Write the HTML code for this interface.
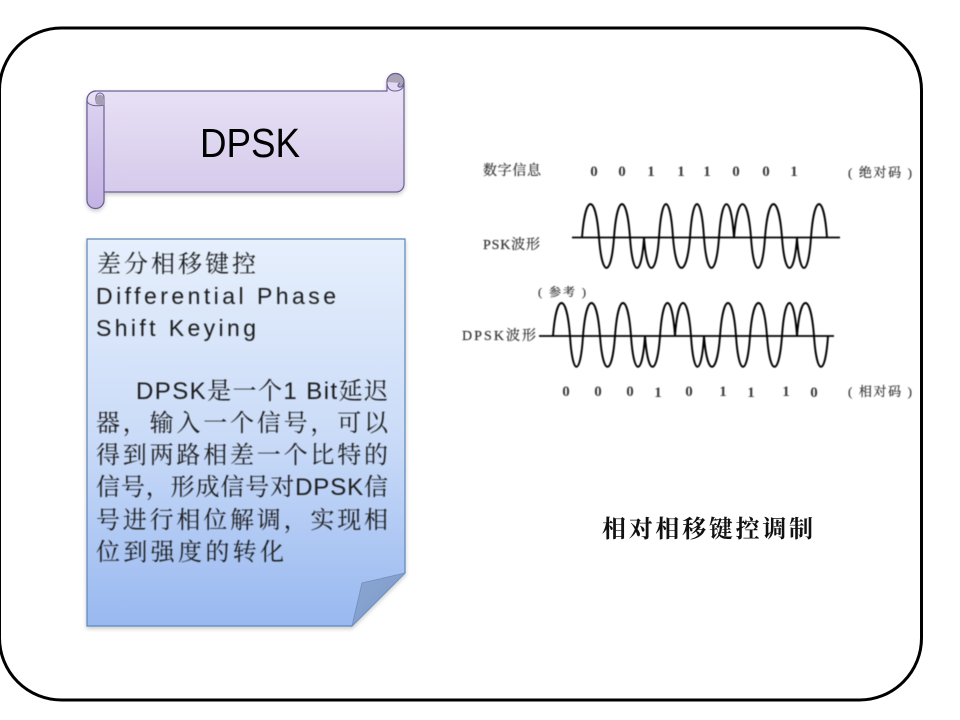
<!DOCTYPE html>
<html><head><meta charset="utf-8"><style>
html,body{margin:0;padding:0;background:#fff;width:960px;height:720px;overflow:hidden}
svg{display:block}
.cn{font-family:"Liberation Sans","Noto Serif CJK SC",sans-serif;font-size:24px;fill:#1a1a1a}
.la{font-family:"Liberation Sans","Noto Sans CJK SC",sans-serif;font-size:23px;fill:#1a1a1a}
.s{font-family:"Liberation Serif","Noto Serif CJK SC",serif;font-size:14px;fill:#333;stroke:#333;stroke-width:.2}
.d{font-family:"Liberation Serif",serif;font-size:15px;font-weight:700;fill:#3a3a3a;text-anchor:middle}
</style></head><body>
<svg width="960" height="720" viewBox="0 0 960 720" xmlns="http://www.w3.org/2000/svg">
<defs>
<linearGradient id="p" x1="0" y1="0" x2="0" y2="1"><stop offset="0" stop-color="#ebe4f6"/><stop offset="1" stop-color="#d2c7ea"/></linearGradient>
<linearGradient id="p2" x1="0" y1="0" x2="0" y2="1"><stop offset="0" stop-color="#dcd2f0"/><stop offset="1" stop-color="#c3b3e4"/></linearGradient>
<linearGradient id="b" x1="0" y1="0" x2="0" y2="1"><stop offset="0" stop-color="#e6effc"/><stop offset=".5" stop-color="#cbdcf8"/><stop offset="1" stop-color="#98b8f0"/></linearGradient>
<linearGradient id="f" x1="0" y1="0" x2="1" y2="1"><stop offset="0" stop-color="#8ba6d2"/><stop offset="1" stop-color="#7d9ac9"/></linearGradient>
<filter id="sh" x="-5%" y="-5%" width="110%" height="115%"><feDropShadow dx="0" dy="2" stdDeviation="2" flood-color="#000" flood-opacity=".22"/></filter>
<filter id="bl" x="-2%" y="-2%" width="104%" height="104%"><feGaussianBlur stdDeviation=".4"/></filter>
</defs>
<rect x="-0.5" y="28" width="922" height="672" rx="62" ry="62" fill="#fff" stroke="#000" stroke-width="3"/>

<!-- scroll banner -->
<g filter="url(#sh)">
<path d="M96 91H387V82a8.500 8.500 0 0 1 17 0V184a8 8 0 0 1-8 8H104V200a8.500 8.500 0 0 1-17 0V100a9 9 0 0 1 9-9Z" fill="url(#p)" stroke="#6d5f95" stroke-width="1.200"/>
</g>
<path d="M104 105V200a8.500 8.500 0 0 1-17 0V100" fill="url(#p2)" stroke="#6d5f95" stroke-width="1.200"/>
<path d="M87 100a9 9 0 0 1 9-9" fill="none" stroke="#6d5f95" stroke-width="1.200"/>
<path d="M87 100c0 5 8 7 17 5V97a4 4 0 0 0-8 0c-1 3 0 6 2 6" fill="#e2daf2" stroke="#6d5f95" stroke-width="1"/>
<path d="M96 104c-1-3-1-8 3-9 3-1 5 2 5 5v5c-3 0-6 0-8-1Z" fill="#a69fb3"/>
<circle cx="395.500" cy="82" r="8.500" fill="#a9a3b6" stroke="#6d5f95" stroke-width="1.200"/>
<path d="M387 82c0 6 3 9 8 9 6 0 9-3 9-9-1 4-3 6-5 5-2-1-1-3 1-4" fill="#e2daf2" stroke="#6d5f95" stroke-width="1"/>
<text x="200" y="157" font-family="Liberation Sans,sans-serif" font-size="41" fill="#000" textLength="100" lengthAdjust="spacingAndGlyphs">DPSK</text>

<!-- note -->
<g filter="url(#sh)">
<path d="M87 239H405V573L352 626H87Z" fill="url(#b)" stroke="#5d86b9" stroke-width="1.200"/>
</g>
<path d="M405 573 362 583 352 626Z" fill="url(#f)" stroke="#6f8fbe" stroke-width=".8"/>

<g filter="url(#bl)">
<text class="cn" x="97" y="272" textLength="159">差分相移键控</text>
<text class="la" x="96" y="304" textLength="240">Differential Phase</text>
<text class="la" x="96" y="336" textLength="160">Shift Keying</text>
<text class="cn" x="136" y="399" textLength="252">DPSK是一个1 Bit延迟</text>
<text class="cn" x="96" y="431" textLength="292">器，输入一个信号，可以</text>
<text class="cn" x="96" y="463" textLength="292">得到两路相差一个比特的</text>
<text class="cn" x="96" y="495" textLength="292">信号，形成信号对DPSK信</text>
<text class="cn" x="96" y="528" textLength="292">号进行相位解调，实现相</text>
<text class="cn" x="96" y="560" textLength="188">位到强度的转化</text>
</g>

<!-- waveforms -->
<g filter="url(#bl)" fill="none" stroke="#000">
<path d="M572 237.500H840M539 336H834" stroke-width="1.800"/>
<path stroke-width="1.900" d="M582 237.500C585.400 193 595.600 193 599 237.500C602 278 611 278 614 237.500C617.200 193 626.800 193 630 237.500C632.800 278 641.200 278 644 238C647 278 656 278 659 237.500C661.800 193 670.200 193 673 237.500C676.400 278 686.600 278 690 237.500C692.800 193 701.200 193 704 237.500C707 278 716 278 719 237.500C722 193 731 193 734 238C737.400 193 747.600 193 751 237.500C753.800 278 762.200 278 765 237.500C768.400 193 778.600 193 782 237.500C785 278 794 278 797 238C799.800 278 808.200 278 811 237.500C814.200 193 823.800 193 827 237.500"/>
<path stroke-width="1.900" d="M553 336C556.400 292 566.600 292 570 336C572.600 377 580.400 377 583 336C586.400 292 596.600 292 600 336C603 377 612 377 615 336C618.200 292 627.800 292 631 336C633.800 377 642.200 377 645 336C648 377 657 377 660 336C663 292 672 292 675 336C678.200 292 687.800 292 691 336C693.600 377 701.400 377 704 336C707.200 377 716.800 377 720 336C723.200 292 732.800 292 736 336C738.800 377 747.200 377 750 336C753.400 292 763.600 292 767 336C770 377 779 377 782 336C785 292 794 292 797 336C800.400 292 810.600 292 814 336C816.800 377 825.200 377 828 336"/>
</g>

<g filter="url(#bl)">
<text class="s" x="483" y="175" textLength="58">数字信息</text>
<text class="s" x="483" y="249" textLength="57">PSK波形</text>
<text class="s" x="462" y="340" textLength="74">DPSK波形</text>
<text class="s" x="538" y="296" textLength="48" style="font-size:12px">( 参考 )</text>
<text class="s" x="848" y="177" textLength="64" style="font-size:13px">( 绝对码 )</text>
<text class="s" x="848" y="396" textLength="64" style="font-size:13px">( 相对码 )</text>
<text class="d" x="594" y="176">0</text><text class="d" x="622" y="176">0</text><text class="d" x="651" y="176">1</text><text class="d" x="681" y="176">1</text><text class="d" x="707" y="176">1</text><text class="d" x="736" y="176">0</text><text class="d" x="766" y="176">0</text><text class="d" x="794" y="176">1</text>
<text class="d" x="566" y="396">0</text><text class="d" x="598" y="396">0</text><text class="d" x="630" y="396">0</text><text class="d" x="658" y="397">1</text><text class="d" x="689" y="396">0</text><text class="d" x="723" y="396">1</text><text class="d" x="751" y="397">1</text><text class="d" x="786" y="396">1</text><text class="d" x="814" y="397">0</text>
</g>

<text x="602" y="537" font-family="Liberation Serif,Noto Serif CJK SC,serif" font-size="24" font-weight="700" fill="#111" textLength="211">相对相移键控调制</text>
</svg>
</body></html>
